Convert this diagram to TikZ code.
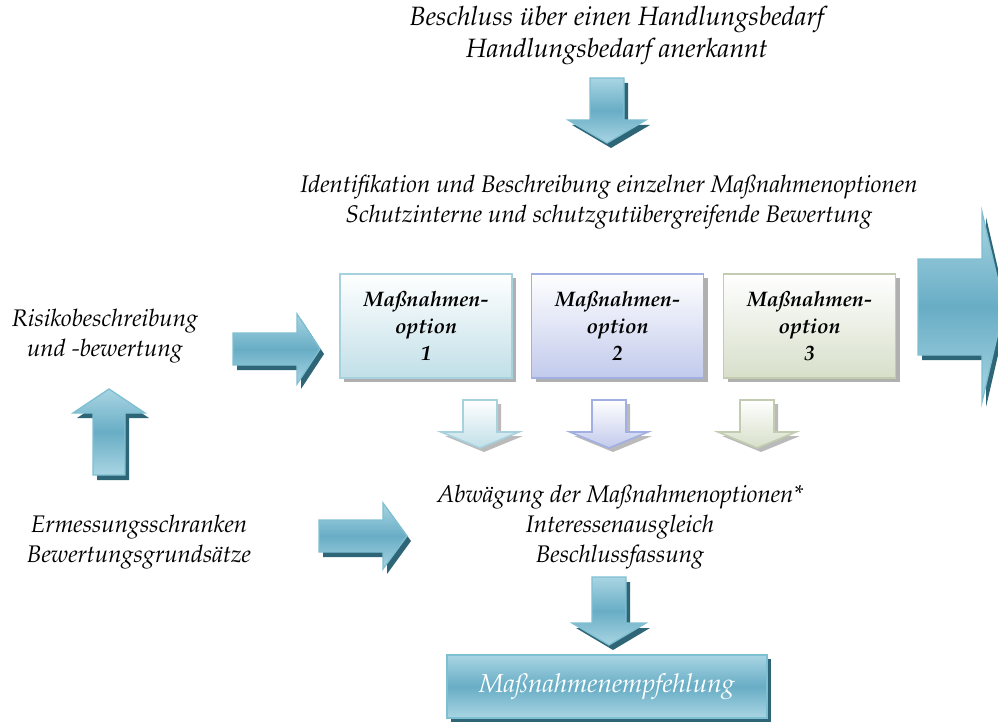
\documentclass[tikz,border=0pt]{standalone}
\usepackage[T1]{fontenc}
\usepackage{mathpazo}
\usetikzlibrary{shadows}

% block-arrow fills
\definecolor{arrlight}{HTML}{A9D5E3}
\definecolor{arrmid}{HTML}{68ADC5}
\definecolor{arredge}{HTML}{7FBFD2}
\definecolor{arrshadow}{HTML}{2E6678}
% option boxes
\definecolor{oneFill}{HTML}{C1DFE8}
\definecolor{oneEdge}{HTML}{A7D1DD}
\definecolor{twoFill}{HTML}{C2CAEC}
\definecolor{twoEdge}{HTML}{A2AFE2}
\definecolor{threeFill}{HTML}{D7DFCA}
\definecolor{threeEdge}{HTML}{C1CCB0}
\definecolor{boxshade}{HTML}{9C9C9C}

% vertical block arrow: centre x, base y, shaft half-width, head half-width, head y, tip y
\newcommand{\vblock}[6]{(#1-#3,#2) -- (#1+#3,#2) -- (#1+#3,#5) -- (#1+#4,#5) -- (#1,#6) -- (#1-#4,#5) -- (#1-#3,#5) -- cycle}
% horizontal block arrow: centre y, base x, shaft half-width, head half-width, head x, tip x
\newcommand{\hblock}[6]{(#2,#1-#3) -- (#5,#1-#3) -- (#5,#1-#4) -- (#6,#1) -- (#5,#1+#4) -- (#5,#1+#3) -- (#2,#1+#3) -- cycle}

% solid blue block arrow with dark shadow
\newcommand{\bluearrow}[1]{%
  \fill[arrshadow,shift={(4,5)}] #1;
  \shade[top color=arrlight,bottom color=arrlight,middle color=arrmid] #1;
  \draw[arredge,line width=1.3pt,line join=miter] #1;}
% pale block arrow in a given colour pair
\newcommand{\palearrow}[3]{%
  \fill[boxshade!70,shift={(4,4)}] #1;
  \shade[top color=white,bottom color=#2] #1;
  \draw[#3,line width=1.6pt,line join=miter] #1;}

\tikzset{
  caption/.style={font=\fontsize{24}{30}\selectfont\itshape, align=center, inner sep=0pt},
  headline/.style={caption, font=\fontsize{26.5}{32}\selectfont\itshape},
  optbox/.style={minimum width=172pt, minimum height=104pt, line width=1.6pt,
    font=\fontsize{21}{27}\selectfont\bfseries\itshape, align=center,
    drop shadow={shadow xshift=4pt, shadow yshift=-4pt, fill=boxshade, opacity=0.8}},
  resultbox/.style={minimum width=320pt, minimum height=63pt, line width=1.6pt,
    draw=arredge, top color=arrlight, bottom color=arrlight, middle color=arrmid,
    font=\fontsize{26}{30}\selectfont\itshape, text=white,
    drop shadow={shadow xshift=4pt, shadow yshift=-4pt, fill=arrshadow, opacity=1}}
}

\begin{document}
\begin{tikzpicture}[x=1pt,y=-1pt]
\useasboundingbox (0,0) rectangle (998,722);
\clip (0,0) rectangle (998,722);

% texts
\node[headline] (decision) at (617,36) {Beschluss \"uber einen Handlungsbedarf\\Handlungsbedarf anerkannt};
\node[caption] (identify) at (609,202) {Identifikation und Beschreibung einzelner Ma\ss{}nahmenoptionen\\Schutzinterne und schutzgut\"ubergreifende Bewertung};
\node[caption] (risk) at (105,336) {Risikobeschreibung\\und -bewertung};
\node[caption] (limits) at (139,542) {Ermessungsschranken\\Bewertungsgrunds\"atze};
\node[caption] (weigh) at (620,527) {Abw\"agung der Ma\ss{}nahmenoptionen*\\Interessenausgleich\\Beschlussfassung};

% option boxes
\node[optbox, draw=oneEdge, top color=white, bottom color=oneFill] (opt1) at (426,326) {Ma\ss{}nahmen-\\option\\1};
\node[optbox, draw=twoEdge, top color=white, bottom color=twoFill] (opt2) at (617.5,326) {Ma\ss{}nahmen-\\option\\2};
\node[optbox, draw=threeEdge, top color=white, bottom color=threeFill] (opt3) at (809.5,326) {Ma\ss{}nahmen-\\option\\3};

% recommendation
\node[resultbox] (result) at (607,686.5) {Ma\ss{}nahmenempfehlung};

% blue block arrows
\bluearrow{\vblock{607}{78}{17}{39}{120}{143}}
\bluearrow{\vblock{109}{475}{16}{36}{413}{389}}
\bluearrow{\vblock{609}{577}{17}{37}{623}{645}}
\bluearrow{\hblock{349}{233}{16}{35}{297}{320}}
\bluearrow{\hblock{536}{319}{16}{33}{383}{407}}
\bluearrow{\hblock{307}{918}{48}{95}{982}{1004}}

% pale arrows below the option boxes
\palearrow{\vblock{480}{400}{17}{39}{432}{448}}{oneFill}{oneEdge}
\palearrow{\vblock{609}{400}{17}{39}{432}{448}}{twoFill}{twoEdge}
\palearrow{\vblock{757}{400}{17}{39}{432}{448}}{threeFill}{threeEdge}
\end{tikzpicture}
\end{document}
